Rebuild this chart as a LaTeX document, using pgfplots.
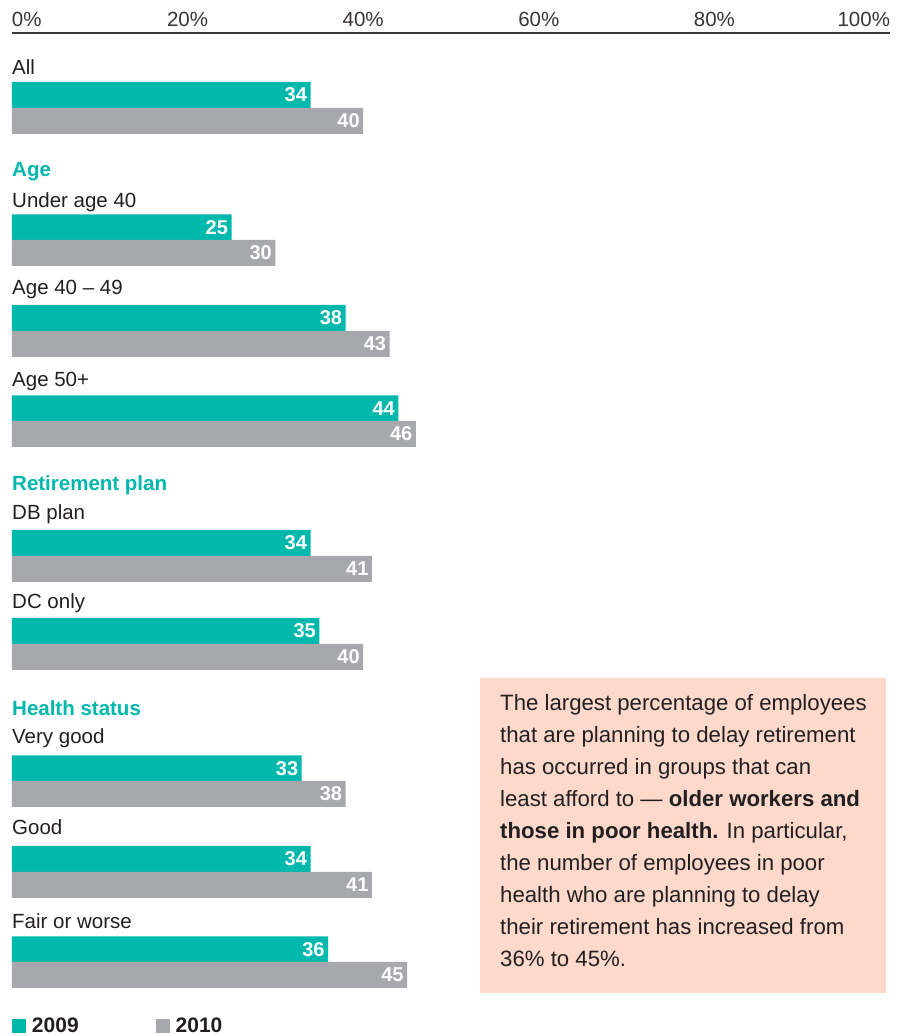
\documentclass[border=0pt]{standalone}
\usepackage{pgfplots}
\pgfplotsset{compat=1.18}
\usepackage{fontspec}
\setmainfont{Liberation Sans}
\definecolor{teal09}{HTML}{00B8AC}
\definecolor{gray10}{HTML}{A7A8AB}
\definecolor{txt}{HTML}{231F20}
\definecolor{pinkbg}{HTML}{FDD9CC}
\newcommand{\lbl}{\fontsize{20.5}{24}\selectfont}
\newcommand{\boxfont}{\fontsize{22.2}{32}\selectfont}
\begin{document}
\begin{tikzpicture}
\useasboundingbox (-12pt,0pt) rectangle (898pt,1036pt);
\begin{axis}[
  at={(0pt,0pt)}, anchor=south west,
  scale only axis, width=878pt, height=1003pt,
  xmin=0, xmax=100, ymin=-1036, ymax=-33,
  axis x line*=top, axis y line=none,
  x axis line style={draw=txt!90, line width=1.4pt, -},
  xtick={0,20,40,60,80,100},
  xticklabels={\makebox[0pt][l]{0\%},20\%,40\%,60\%,80\%,\makebox[0pt][r]{100\%}},
  major tick length=0pt,
  xticklabel style={font=\lbl, text=txt!90, anchor=south, yshift=3pt},
  ytick=\empty,
  clip=false,
  /pgf/number format/assume math mode=true,
  xbar, bar width=26pt,
  nodes near coords, point meta=x,
  nodes near coords style={anchor=east, font=\fontsize{20}{24}\selectfont\bfseries, text=white},
  legend style={at={(axis cs:0,-1036)}, anchor=south west, draw=none, fill=none,
    inner sep=0pt, outer sep=0pt, font=\fontsize{21}{24}\selectfont\bfseries, text=txt,
    legend columns=2, /tikz/every even column/.append style={column sep=75pt},
    /tikz/every odd column/.append style={column sep=4pt}},
  legend image code/.code={\fill[#1] (0pt,-7pt) rectangle (14pt,7pt);},
]
\addplot[fill=teal09, draw=none, bar shift=0pt] coordinates {
 (34,-95) (25,-227.5) (38,-318) (44,-408.5) (34,-543) (35,-631) (33,-768.5) (34,-859) (36,-949.5)};
\addlegendentry{2009}
\addplot[fill=gray10, draw=none, bar shift=0pt] coordinates {
 (40,-121) (30,-253) (43,-344) (46,-434) (41,-569) (40,-657) (38,-794) (41,-885) (45,-975)};
\addlegendentry{2010}

\begin{scope}[every node/.style={anchor=base west, inner sep=0pt, font=\lbl, text=txt}]
\node at (axis cs:0,-75) {All};
\node[font=\lbl\bfseries, text=teal09] at (axis cs:0,-177) {Age};
\node at (axis cs:0,-208) {Under age 40};
\node at (axis cs:0,-295) {Age 40 – 49};
\node at (axis cs:0,-387) {Age 50+};
\node[font=\lbl\bfseries, text=teal09] at (axis cs:0,-491) {Retirement plan};
\node at (axis cs:0,-520) {DB plan};
\node at (axis cs:0,-609) {DC only};
\node[font=\lbl\bfseries, text=teal09] at (axis cs:0,-716) {Health status};
\node at (axis cs:0,-744) {Very good};
\node at (axis cs:0,-835) {Good};
\node at (axis cs:0,-929) {Fair or worse};
\end{scope}

\fill[pinkbg] (axis cs:53.30,-678) rectangle (axis cs:99.54,-993);
\begin{scope}[every node/.style={anchor=base west, inner sep=0pt, font=\boxfont, text=txt}]
\node at (axis cs:55.58,-711) {The largest percentage of employees};
\node at (axis cs:55.58,-743) {that are planning to delay retirement};
\node at (axis cs:55.58,-775) {has occurred in groups that can};
\node at (axis cs:55.58,-807) {least afford to — \textbf{older workers and}};
\node at (axis cs:55.58,-839) {\textbf{those in poor health.} In particular,};
\node at (axis cs:55.58,-871) {the number of employees in poor};
\node at (axis cs:55.58,-903) {health who are planning to delay};
\node at (axis cs:55.58,-935) {their retirement has increased from};
\node at (axis cs:55.58,-967) {36\% to 45\%.};
\end{scope}
\end{axis}
\end{tikzpicture}
\end{document}
